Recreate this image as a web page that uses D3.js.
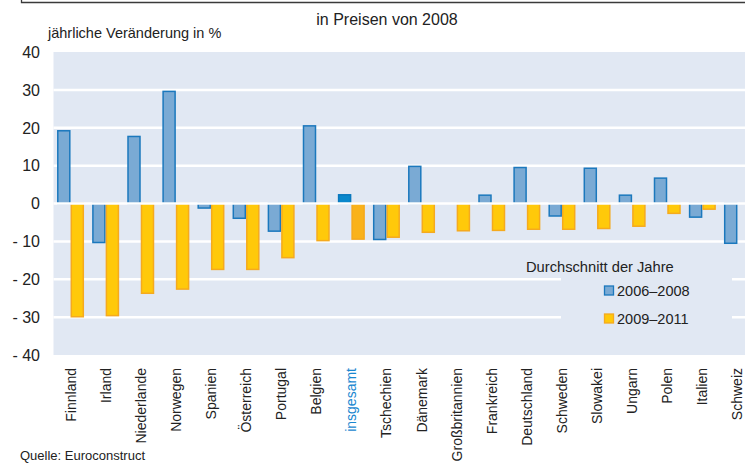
<!DOCTYPE html>
<html><head><meta charset="utf-8">
<script src="https://cdn.jsdelivr.net/npm/d3@7"></script>
<style>body{margin:0;background:#fff}svg{display:block;font-family:"Liberation Sans",Arial,sans-serif}</style>
</head><body>
<svg id="c" width="745" height="465"></svg>
<script>
const categories = ["Finnland","Irland","Niederlande","Norwegen","Spanien","Österreich","Portugal","Belgien","insgesamt","Tschechien","Dänemark","Großbritannien","Frankreich","Deutschland","Schweden","Slowakei","Ungarn","Polen","Italien","Schweiz"];
const values2006_2008 = [19.2,-10.3,17.7,29.6,-1.2,-3.9,-7.3,20.5,2.3,-9.5,9.8,null,2.2,9.5,-3.3,9.3,2.2,6.7,-3.6,-10.5];
const values2009_2011 = [-29.9,-29.6,-23.7,-22.6,-17.4,-17.4,-14.3,-9.8,-9.4,-8.9,-7.6,-7.2,-7.1,-6.8,-6.8,-6.6,-6.0,-2.6,-1.5,null];
const yTicks = [40,30,20,10,0,-10,-20,-30,-40];
const seriesNames = ["2006–2008","2009–2011"];
const highlight = "insgesamt";

const svg = d3.select("#c");
const W = 745;
const x = d3.scaleBand().domain(categories).range([53, 755]).padding(0);
const xs = d3.scaleBand().domain([0,1]).range([0, x.bandwidth()]).paddingInner(0).paddingOuter(0.3);
const y = d3.scaleLinear().domain([-40, 40]).range([355, 52]);

// frame line at top
svg.append("path").attr("d","M21.5,0 V2.5 H745").attr("fill","none").attr("stroke","#3a3a3a").attr("stroke-width",1.3);

svg.append("text").attr("x",387).attr("y",25).attr("text-anchor","middle").attr("font-size",16).attr("fill","#222").text("in Preisen von 2008");
svg.append("text").attr("x",48).attr("y",38).attr("font-size",14.5).attr("fill","#222").text("jährliche Veränderung in %");

// plot background
svg.append("rect").attr("x",53.5).attr("y",y(40)).attr("width",W-53.5).attr("height",y(-40)-y(40)).attr("fill","#e1e8f3");

// gridlines
svg.append("g").selectAll("line").data(yTicks.filter(t=>t!==40&&t!==-40&&t!==0)).join("line")
  .attr("x1",53.5).attr("x2",W).attr("y1",d=>y(d)).attr("y2",d=>y(d))
  .attr("stroke","#fff").attr("stroke-width",2.5);

// y tick labels
svg.append("g").selectAll("text").data(yTicks).join("text")
  .attr("x",40).attr("y",d=>y(d)).attr("dy","0.36em").attr("text-anchor","end")
  .attr("font-size",16).attr("fill","#222")
  .text(d=> d<0 ? "- "+Math.abs(d) : String(d));

// bars
const fills = [["#7aaad4","#1b78bd"],["#ffc90a","#f5aa1e"]];
const hlFills = [["#0a88cc","#0a78bd"],["#f9b21a","#f5a81c"]];
[values2006_2008, values2009_2011].forEach((vals, si) => {
  svg.append("g").selectAll("rect").data(categories.map((c,i)=>({c, v: vals[i]})).filter(d=>d.v!==null)).join("rect")
    .attr("x", d=> x(d.c) + xs(si) + 0.75)
    .attr("width", xs.bandwidth() - 1.5)
    .attr("y", d=> Math.min(y(d.v), y(0)))
    .attr("height", d=> Math.abs(y(d.v) - y(0)))
    .attr("fill", d=> d.c===highlight ? hlFills[si][0] : fills[si][0])
    .attr("stroke", d=> d.c===highlight ? hlFills[si][1] : fills[si][1])
    .attr("stroke-width", 1.5);
});

// zero line on top
svg.append("line").attr("x1",53.5).attr("x2",W).attr("y1",y(0)).attr("y2",y(0)).attr("stroke","#fff").attr("stroke-width",2.5);

// legend
const lg = svg.append("g");
lg.append("rect").attr("x",561).attr("y",272).attr("width",171).attr("height",64).attr("fill","#e1e8f3");
lg.append("text").attr("x",526).attr("y",272).attr("font-size",14.7).attr("fill","#222").text("Durchschnitt der Jahre");
seriesNames.forEach((n,i)=>{
  const yy = 286 + i*28;
  lg.append("rect").attr("x",604.5).attr("y",yy).attr("width",9).attr("height",9)
    .attr("fill",fills[i][0]).attr("stroke",fills[i][1]).attr("stroke-width",1.3);
  lg.append("text").attr("x",617).attr("y",yy+10).attr("font-size",14.5).attr("fill","#222").text(n);
});

// x labels
svg.append("g").selectAll("text").data(categories).join("text")
  .attr("transform", d=>`translate(${x(d)+x.bandwidth()/2},368) rotate(-90)`)
  .attr("dy","0.36em").attr("text-anchor","end").attr("font-size",14)
  .attr("fill", d=> d===highlight ? "#1a88d0" : "#222")
  .text(d=>d);

svg.append("text").attr("x",20).attr("y",460).attr("font-size",13).attr("fill","#222").text("Quelle: Euroconstruct");
</script>
</body></html>
